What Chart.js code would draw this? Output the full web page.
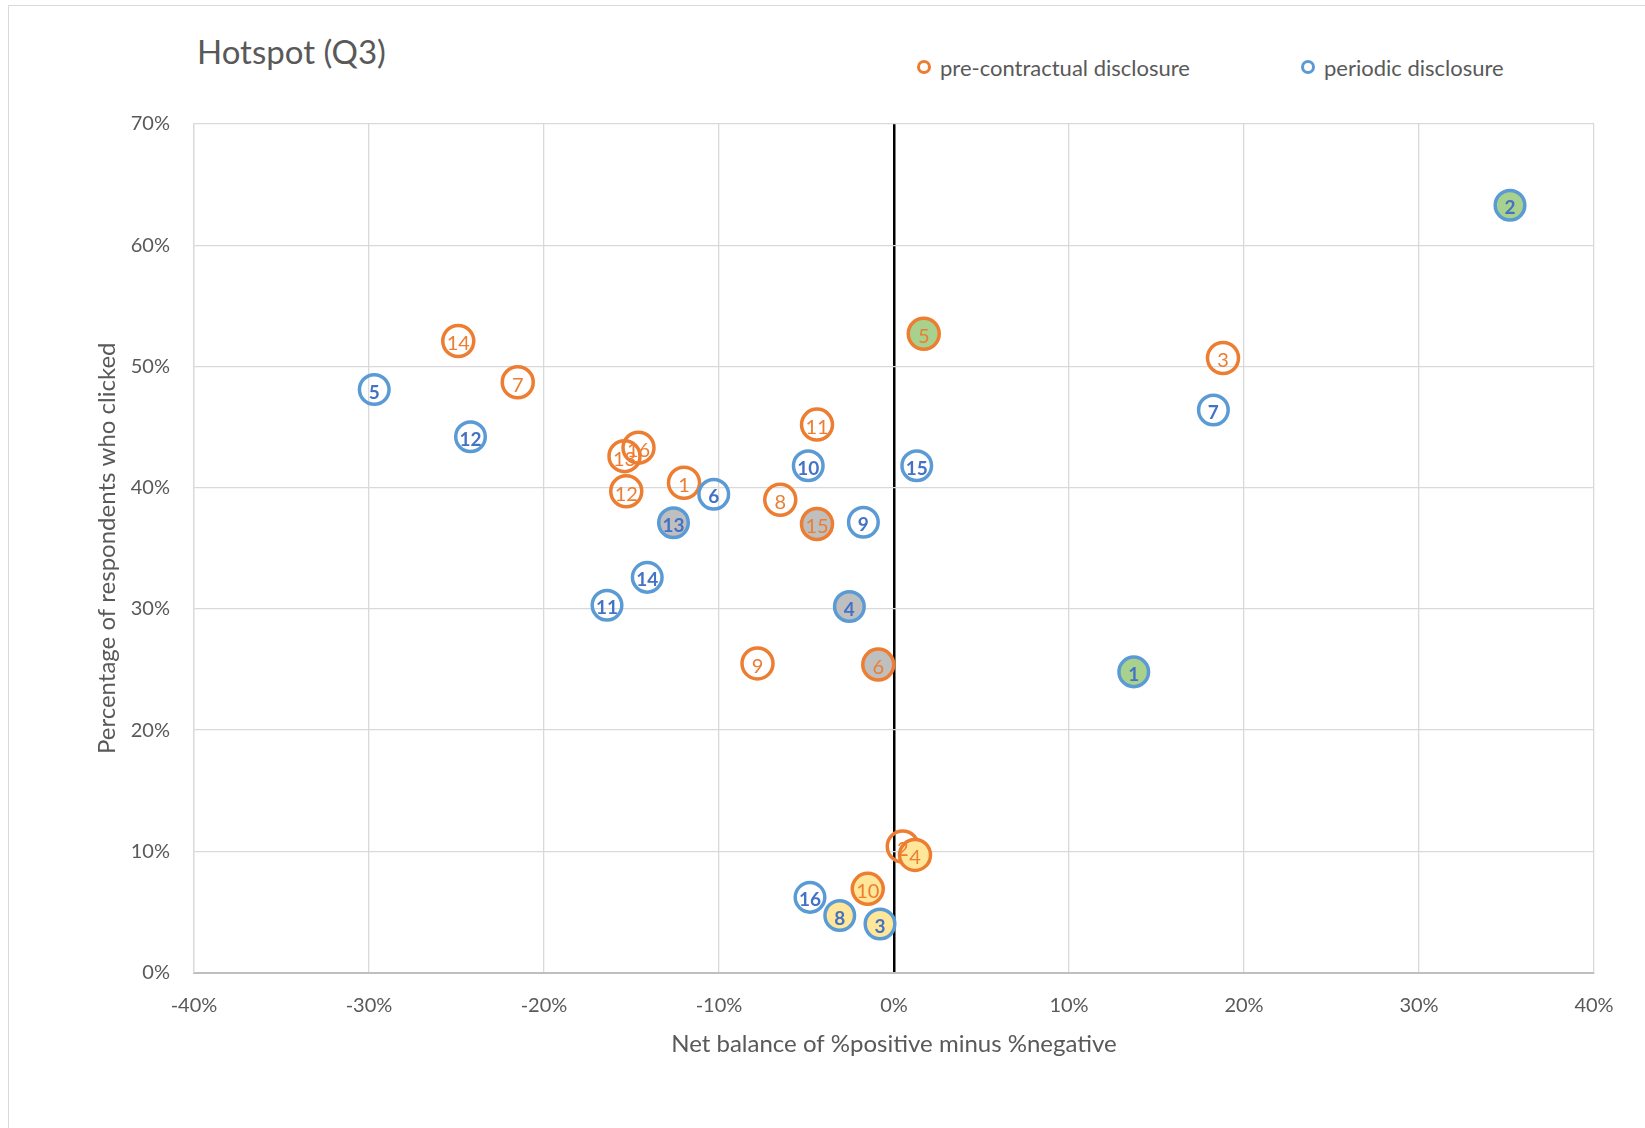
<!DOCTYPE html>
<html>
<head>
<meta charset="utf-8">
<script src="https://cdn.jsdelivr.net/npm/chart.js@4.4.1/dist/chart.umd.min.js"></script>
<style>
  html, body { margin: 0; padding: 0; background: #fff; overflow: hidden; }
  body { width: 1645px; height: 1128px; position: relative; font-family: Lato, "Open Sans", sans-serif; }
  #frame { position: absolute; left: 8px; top: 5px; width: 1700px; height: 1200px; border: 1.5px solid #D9D9D9; }
  #title { position: absolute; left: 197px; top: 35px; font-size: 33px; color: #595959; line-height: 1; }
  .leg { position: absolute; top: 55px; font-size: 22px; color: #595959; line-height: 26px; white-space: nowrap; }
  .leg i { display: inline-block; width: 8px; height: 8px; border-radius: 50%; border: 3px solid; margin-right: 9px; vertical-align: 2px; }
  #chart { position: absolute; left: 0; top: 0; }
</style>
</head>
<body>
<div id="frame"></div>
<div id="title">Hotspot (Q3)</div>
<div class="leg" style="left:917px"><i style="border-color:#ED7D31"></i>pre-contractual disclosure</div>
<div class="leg" style="left:1301px"><i style="border-color:#5B9BD5"></i>periodic disclosure</div>
<canvas id="chart" width="1645" height="1128"></canvas>
<script>
// ---------- DATA ----------
const pointNames = ["1","2","3","4","5","6","7","8","9","10","11","12","13","14","15","16"];

// pre-contractual disclosure (x = net balance %, y = % clicked)
const preX = [-12.0, 0.5, 18.8, 1.2, 1.7, -0.9, -21.5, -6.5, -7.8, -1.5, -4.4, -15.3, -15.4, -24.9, -4.4, -14.6];
const preY = [40.4, 10.4, 50.7, 9.7, 52.7, 25.4, 48.7, 39.0, 25.5, 6.9, 45.2, 39.7, 42.6, 52.1, 37.0, 43.3];
const preHighlight = ["", "", "", "yellow", "green", "grey", "", "", "", "yellow", "", "", "", "", "grey", ""];

// periodic disclosure
const perX = [13.7, 35.2, -0.8, -2.55, -29.7, -10.3, 18.25, -3.1, -1.75, -4.9, -16.4, -24.2, -12.6, -14.1, 1.3, -4.8];
const perY = [24.8, 63.3, 4.0, 30.2, 48.1, 39.45, 46.4, 4.7, 37.15, 41.8, 30.3, 44.2, 37.1, 32.6, 41.8, 6.2];
const perHighlight = ["green", "green", "yellow", "grey", "", "", "", "yellow", "", "", "", "", "grey", "", "", ""];

const xTicks = [-40, -30, -20, -10, 0, 10, 20, 30, 40];
const yTicks = [0, 10, 20, 30, 40, 50, 60, 70];

// ---------- STYLE ----------
const fills = { "": "rgba(0,0,0,0)", grey: "#BFBFBF", green: "#A9D18E", yellow: "#FFE699" };
const gridColor = "#D9D9D9";
const textColor = "#595959";

function points(xs, ys) {
  return xs.map((x, i) => ({ x: x, y: ys[i] }));
}

// draws the point number inside each marker
const pointLabels = {
  id: "pointLabels",
  afterDatasetDraw(chart, args) {
    const ds = chart.data.datasets[args.index];
    const ctx = chart.ctx;
    ctx.save();
    ctx.font = ds.labelFont;
    ctx.fillStyle = ds.labelColor;
    ctx.textAlign = "center";
    ctx.textBaseline = "middle";
    args.meta.data.forEach((pt, j) => ctx.fillText(ds.names[j], pt.x, pt.y + 3));
    ctx.restore();
  }
};

new Chart(document.getElementById("chart").getContext("2d"), {
  type: "scatter",
  data: {
    datasets: [
      {
        label: "pre-contractual disclosure",
        data: points(preX, preY),
        names: pointNames,
        pointRadius: 15.5,
        pointBorderWidth: 3.5,
        borderColor: "#ED7D31",
        backgroundColor: preHighlight.map(h => fills[h]),
        labelColor: "#ED7D31",
        labelFont: "20px Lato",
        order: 1
      },
      {
        label: "periodic disclosure",
        data: points(perX, perY),
        names: pointNames,
        pointRadius: 14.8,
        pointBorderWidth: 3.5,
        borderColor: "#5B9BD5",
        backgroundColor: perHighlight.map(h => fills[h]),
        labelColor: "#4472C4",
        labelFont: "bold 19px Lato",
        order: 0
      }
    ]
  },
  options: {
    responsive: false,
    animation: false,
    devicePixelRatio: 1,
    layout: { padding: { top: 124, right: 51, bottom: 69, left: 93 } },
    plugins: { legend: { display: false }, tooltip: { enabled: false } },
    scales: {
      x: {
        type: "linear",
        min: -40, max: 40,
        afterBuildTicks: (s) => { s.ticks = xTicks.map(v => ({ value: v })); },
        afterFit: (s) => { s.height = 86.5; },
        ticks: { color: textColor, font: { family: "Lato", size: 20 }, padding: 21, callback: v => v + "%" },
        grid: {
          drawTicks: false,
          color: c => (c.tick && c.tick.value === 0 ? "#000" : gridColor),
          lineWidth: c => (c.tick && c.tick.value === 0 ? 2.5 : 1.3)
        },
        border: { color: "#BFBFBF", width: 2 },
        title: {
          display: true,
          text: "Net balance of %positive minus %negative",
          color: textColor,
          font: { family: "Lato", size: 24 },
          padding: 0
        }
      },
      y: {
        type: "linear",
        min: 0, max: 70,
        afterBuildTicks: (s) => { s.ticks = yTicks.map(v => ({ value: v })); },
        afterFit: (s) => { s.width = 101; },
        ticks: { color: textColor, font: { family: "Lato", size: 20 }, padding: 24, callback: v => v + "%" },
        grid: { drawTicks: false, color: gridColor, lineWidth: 1.3 },
        border: { color: gridColor, width: 1.3 },
        title: {
          display: true,
          text: "Percentage of respondents who clicked",
          color: textColor,
          font: { family: "Lato", size: 24 },
          padding: 0
        }
      }
    }
  },
  plugins: [pointLabels]
});
</script>
</body>
</html>
